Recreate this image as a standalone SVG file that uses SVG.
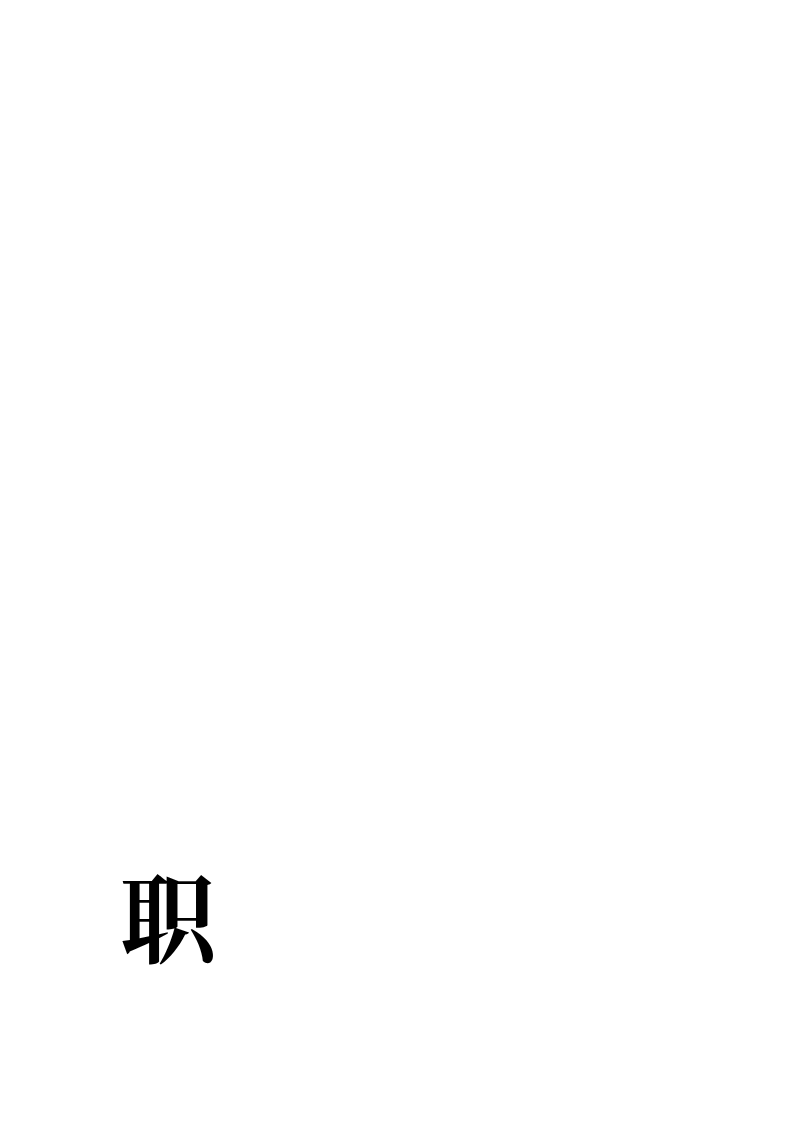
<svg xmlns="http://www.w3.org/2000/svg" width="800" height="1132" viewBox="0 0 800 1132"><style>.t{font-family:"Noto Serif CJK SC","Noto Sans CJK SC",serif;font-weight:bold;font-size:96px;fill:#000}</style><rect width="800" height="1132" fill="#fff"/><g id="title"><text class="t" x="120" y="955">职</text></g></svg>
